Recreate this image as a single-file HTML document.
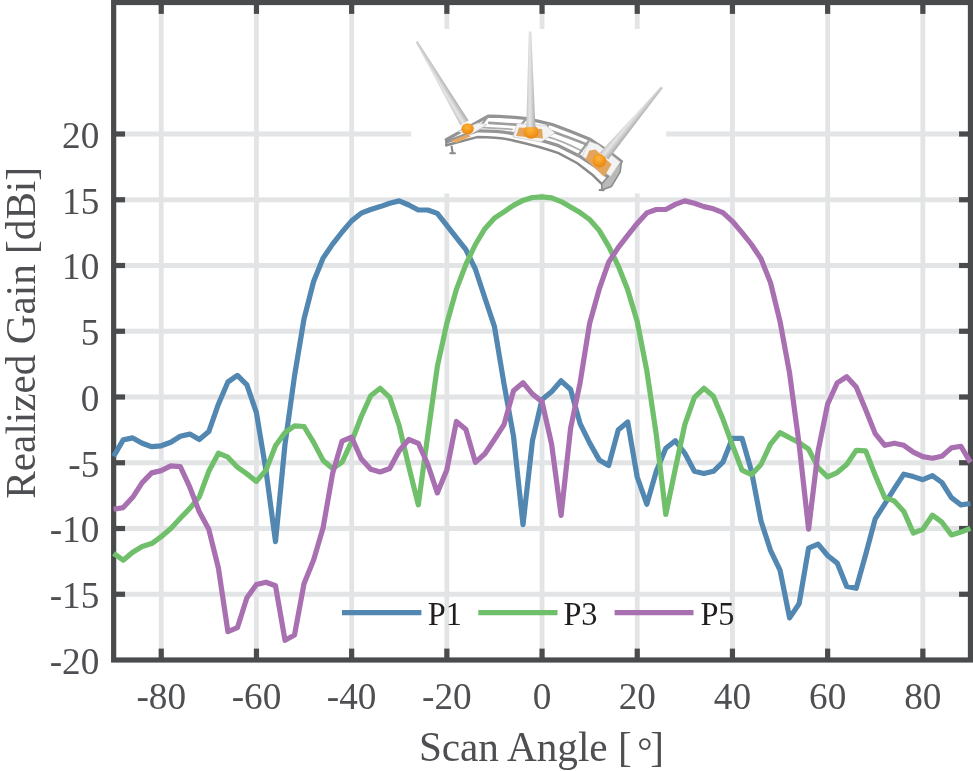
<!DOCTYPE html>
<html lang="en"><head><meta charset="utf-8"><title>Realized Gain vs Scan Angle</title>
<style>html,body{margin:0;padding:0;background:#fff;}body{width:973px;height:771px;overflow:hidden;}svg{display:block;}text{font-family:"Liberation Serif","Times New Roman",serif;}</style>
</head><body>
<svg width="973" height="771" viewBox="0 0 973 771">
<defs>
<linearGradient id="coneL" gradientUnits="userSpaceOnUse" x1="460.4" y1="125.4" x2="468.6" y2="120.4"><stop offset="0" stop-color="#c4c4c4"/><stop offset="0.4" stop-color="#e6e6e6"/><stop offset="1" stop-color="#ababab"/></linearGradient>
<linearGradient id="coneM" gradientUnits="userSpaceOnUse" x1="526.2" y1="127.0" x2="535.4" y2="127.0"><stop offset="0" stop-color="#c4c4c4"/><stop offset="0.4" stop-color="#e6e6e6"/><stop offset="1" stop-color="#ababab"/></linearGradient>
<linearGradient id="coneR" gradientUnits="userSpaceOnUse" x1="599.9" y1="153.0" x2="607.9" y2="159.4"><stop offset="0" stop-color="#c4c4c4"/><stop offset="0.4" stop-color="#e6e6e6"/><stop offset="1" stop-color="#ababab"/></linearGradient>
<radialGradient id="ball" cx="0.45" cy="0.35" r="0.7"><stop offset="0" stop-color="#ffb43a"/><stop offset="1" stop-color="#e8820c"/></radialGradient>
<clipPath id="plotclip"><rect x="113.65" y="2.50" width="856.80" height="657.50"/></clipPath>
</defs>
<rect width="973" height="771" fill="#fff"/>
<g stroke="#e3e4e5" stroke-width="4.8" fill="none">
<line x1="161.25" y1="2.50" x2="161.25" y2="660.00"/>
<line x1="256.45" y1="2.50" x2="256.45" y2="660.00"/>
<line x1="351.65" y1="2.50" x2="351.65" y2="660.00"/>
<line x1="446.85" y1="2.50" x2="446.85" y2="660.00"/>
<line x1="542.05" y1="2.50" x2="542.05" y2="660.00"/>
<line x1="637.25" y1="2.50" x2="637.25" y2="660.00"/>
<line x1="732.45" y1="2.50" x2="732.45" y2="660.00"/>
<line x1="827.65" y1="2.50" x2="827.65" y2="660.00"/>
<line x1="922.85" y1="2.50" x2="922.85" y2="660.00"/>
<line x1="113.65" y1="594.25" x2="970.45" y2="594.25"/>
<line x1="113.65" y1="528.50" x2="970.45" y2="528.50"/>
<line x1="113.65" y1="462.75" x2="970.45" y2="462.75"/>
<line x1="113.65" y1="397.00" x2="970.45" y2="397.00"/>
<line x1="113.65" y1="331.25" x2="970.45" y2="331.25"/>
<line x1="113.65" y1="265.50" x2="970.45" y2="265.50"/>
<line x1="113.65" y1="199.75" x2="970.45" y2="199.75"/>
<line x1="113.65" y1="134.00" x2="970.45" y2="134.00"/>
</g>
<rect x="411.3" y="29" width="254.9" height="164.5" fill="#fff"/>
<g id="antenna-inset">
<g fill="none" stroke-linecap="round" stroke-linejoin="round">
<path d="M446.3 145.3 L477 137.1 Q500 137.3 514 140.7 Q540 146.5 558.5 153.1 L577 163 L593 175.3 L601.7 183.9" stroke="#8a8a8a" stroke-width="2.5"/>
<path d="M447.2 141.6 L477 130.9 Q500 130.8 514 133.9 Q540 139.5 558.5 145.7 L580.7 156.8 L599.2 169.1 L608 177" stroke="#959595" stroke-width="3.4"/>
<path d="M446.3 139.7 L488.1 116.1 Q510 116.6 526.3 118.5 L540 121.6 L552.3 124.5 L570.8 131.5 L589.3 138.9 L598 144.5 L608 151 L621.4 161.5" stroke="#939393" stroke-width="3.2"/>
<path d="M489.3 122.8 L516.5 124.7" stroke="#9e9e9e" stroke-width="2.7"/>
<path d="M552.3 131.5 L570.8 138.3 L588.1 145.1" stroke="#9e9e9e" stroke-width="2.7"/>
<path d="M480 127.4 L512 129.3" stroke="#adadad" stroke-width="1.8"/>
<path d="M546 136.3 Q562 140.5 582 151" stroke="#adadad" stroke-width="1.8"/>
<path d="M488.1 116.1 L477 130.9 M526.3 118.5 L514 133.9 M549 123.5 L540 139.5 M590 139.2 L578 155.6" stroke="#9c9c9c" stroke-width="2.3"/>
<path d="M446.3 139.7 L446.3 145.5 M451.6 146.5 L452.6 152.5 M450.4 153.2 L454.9 153.2" stroke="#8a8a8a" stroke-width="2.1"/>
</g>
<polygon points="608,176.5 621.4,161.5 620.2,171.8 611.5,186.4 601.9,190 601.7,183.9" fill="#b9b9b9" stroke="#8c8c8c" stroke-width="1.6" stroke-linejoin="round"/>
<path d="M598.8 190 L604.4 190.2" stroke="#8c8c8c" stroke-width="2" fill="none"/>
<polygon points="458,131.5 478,123 487,124.5 470,135" fill="#f4f4f4" stroke="#c8c8c8" stroke-width="0.7"/>
<polygon points="451.5,140.5 466,134.8 471,136.2 456,143" fill="#e6a862"/>
<polygon points="517,123.5 546,125.5 555,133 541,142 513,137" fill="#f3f3f3" stroke="#c6c6c6" stroke-width="0.7"/>
<polygon points="519,127.5 542,129 543,138.5 516,136" fill="#e3a55e"/>
<polygon points="589.5,141.5 598,144.5 620.5,162 610.5,176.5 582,156" fill="#f3f3f3" stroke="#c4c4c4" stroke-width="0.7"/>
<polygon points="589.3,150.6 595.5,149.4 611.5,164.2 604.1,177 585.6,159.3" fill="#e3a55e"/>
<ellipse cx="467.6" cy="128.8" rx="6.2" ry="5.6" fill="url(#ball)"/>
<ellipse cx="531.1" cy="132" rx="7.6" ry="6.8" fill="url(#ball)"/>
<ellipse cx="599.4" cy="160.6" rx="6.8" ry="6.8" fill="url(#ball)"/>
<polygon points="415.6,42.2 417.5,41 468.6,120.4 460.4,125.4" fill="url(#coneL)"/>
<polygon points="528.8,31.6 531.3,31.6 535.4,127.2 526.2,127.2" fill="url(#coneM)"/>
<polygon points="660.9,86.4 662.8,88 608.3,159.6 599.7,152.8" fill="url(#coneR)"/>
</g>

<g stroke="#4a4b4d" stroke-width="5.2" fill="none">
<line x1="161.25" y1="660.00" x2="161.25" y2="648.60"/>
<line x1="161.25" y1="2.50" x2="161.25" y2="13.90"/>
<line x1="256.45" y1="660.00" x2="256.45" y2="648.60"/>
<line x1="256.45" y1="2.50" x2="256.45" y2="13.90"/>
<line x1="351.65" y1="660.00" x2="351.65" y2="648.60"/>
<line x1="351.65" y1="2.50" x2="351.65" y2="13.90"/>
<line x1="446.85" y1="660.00" x2="446.85" y2="648.60"/>
<line x1="446.85" y1="2.50" x2="446.85" y2="13.90"/>
<line x1="542.05" y1="660.00" x2="542.05" y2="648.60"/>
<line x1="542.05" y1="2.50" x2="542.05" y2="13.90"/>
<line x1="637.25" y1="660.00" x2="637.25" y2="648.60"/>
<line x1="637.25" y1="2.50" x2="637.25" y2="13.90"/>
<line x1="732.45" y1="660.00" x2="732.45" y2="648.60"/>
<line x1="732.45" y1="2.50" x2="732.45" y2="13.90"/>
<line x1="827.65" y1="660.00" x2="827.65" y2="648.60"/>
<line x1="827.65" y1="2.50" x2="827.65" y2="13.90"/>
<line x1="922.85" y1="660.00" x2="922.85" y2="648.60"/>
<line x1="922.85" y1="2.50" x2="922.85" y2="13.90"/>
<line x1="113.65" y1="594.25" x2="125.05" y2="594.25"/>
<line x1="970.45" y1="594.25" x2="959.05" y2="594.25"/>
<line x1="113.65" y1="528.50" x2="125.05" y2="528.50"/>
<line x1="970.45" y1="528.50" x2="959.05" y2="528.50"/>
<line x1="113.65" y1="462.75" x2="125.05" y2="462.75"/>
<line x1="970.45" y1="462.75" x2="959.05" y2="462.75"/>
<line x1="113.65" y1="397.00" x2="125.05" y2="397.00"/>
<line x1="970.45" y1="397.00" x2="959.05" y2="397.00"/>
<line x1="113.65" y1="331.25" x2="125.05" y2="331.25"/>
<line x1="970.45" y1="331.25" x2="959.05" y2="331.25"/>
<line x1="113.65" y1="265.50" x2="125.05" y2="265.50"/>
<line x1="970.45" y1="265.50" x2="959.05" y2="265.50"/>
<line x1="113.65" y1="199.75" x2="125.05" y2="199.75"/>
<line x1="970.45" y1="199.75" x2="959.05" y2="199.75"/>
<line x1="113.65" y1="134.00" x2="125.05" y2="134.00"/>
<line x1="970.45" y1="134.00" x2="959.05" y2="134.00"/>
<rect x="113.65" y="2.50" width="856.80" height="657.50"/>
</g>
<g fill="none" stroke-width="5.2" stroke-linejoin="round" stroke-linecap="butt">
<path stroke="#5187b1" d="M113.6 456.4 L123.2 439.9 L132.7 437.9 L142.2 443.3 L151.7 446.7 L161.2 445.8 L170.8 442.2 L180.3 436.3 L189.8 434.1 L199.3 439.5 L208.8 431.6 L218.4 404.2 L227.9 382.0 L237.4 375.4 L246.9 384.9 L256.4 412.6 L266.0 470.6 L275.5 541.6 L285.0 444.3 L294.5 376.0 L304.0 319.0 L313.6 281.5 L323.1 258.1 L332.6 244.1 L342.1 232.0 L351.6 220.9 L361.2 213.2 L370.7 209.5 L380.2 206.6 L389.7 203.2 L399.2 200.9 L408.8 205.0 L418.3 210.0 L427.8 210.0 L437.3 213.4 L446.8 225.4 L456.4 237.6 L465.9 249.7 L475.4 269.2 L484.9 298.0 L494.4 326.3 L504.0 383.9 L513.5 436.1 L523.0 524.6 L532.5 440.4 L542.0 399.6 L551.6 391.7 L561.1 380.8 L570.6 389.5 L580.1 423.6 L589.6 442.9 L599.2 459.9 L608.7 465.4 L618.2 430.1 L627.7 422.0 L637.2 477.0 L646.8 504.2 L656.3 471.3 L665.8 448.2 L675.3 440.7 L684.8 453.2 L694.4 471.3 L703.9 473.5 L713.4 471.3 L722.9 462.2 L732.4 438.3 L742.0 438.3 L751.5 471.3 L761.0 521.0 L770.5 550.3 L780.0 570.1 L789.6 617.9 L799.1 603.8 L808.6 548.1 L818.1 544.1 L827.6 555.5 L837.2 563.1 L846.7 586.4 L856.2 588.3 L865.7 554.5 L875.2 518.9 L884.8 503.8 L894.3 488.7 L903.8 474.2 L913.3 476.6 L922.8 479.7 L932.4 475.6 L941.9 482.5 L951.4 497.7 L960.9 504.8 L970.4 503.5"/>
<path stroke="#70bf6b" d="M113.6 553.4 L123.2 560.2 L132.7 552.2 L142.2 546.5 L151.7 543.6 L161.2 536.7 L170.8 528.5 L180.3 518.2 L189.8 508.4 L199.3 496.9 L208.8 471.3 L218.4 453.2 L227.9 457.2 L237.4 467.2 L246.9 473.9 L256.4 481.4 L266.0 470.1 L275.5 445.7 L285.0 432.6 L294.5 425.8 L304.0 426.5 L313.6 442.4 L323.1 460.4 L332.6 468.5 L342.1 462.2 L351.6 441.7 L361.2 416.7 L370.7 395.7 L380.2 388.3 L389.7 397.4 L399.2 425.8 L408.8 466.7 L418.3 504.8 L427.8 434.9 L437.3 366.8 L446.8 323.5 L456.4 289.4 L465.9 264.4 L475.4 244.5 L484.9 228.7 L494.4 218.2 L504.0 211.8 L513.5 205.4 L523.0 200.4 L532.5 197.5 L542.0 196.9 L551.6 197.9 L561.1 201.6 L570.6 207.0 L580.1 212.6 L589.6 219.5 L599.2 230.4 L608.7 246.3 L618.2 265.8 L627.7 289.8 L637.2 321.4 L646.8 370.7 L656.3 434.9 L665.8 514.4 L675.3 468.9 L684.8 424.6 L694.4 397.4 L703.9 388.3 L713.4 396.3 L722.9 419.1 L732.4 445.1 L742.0 470.1 L751.5 474.6 L761.0 464.5 L770.5 444.1 L780.0 432.6 L789.6 437.8 L799.1 442.6 L808.6 449.2 L818.1 467.6 L827.6 476.8 L837.2 472.6 L846.7 464.5 L856.2 450.4 L865.7 450.9 L875.2 475.2 L884.8 497.7 L894.3 500.9 L903.8 511.4 L913.3 533.0 L922.8 529.3 L932.4 515.2 L941.9 522.2 L951.4 534.9 L960.9 532.1 L970.4 528.4"/>
<path stroke="#a970b1" d="M113.6 509.2 L123.2 507.6 L132.7 497.3 L142.2 482.6 L151.7 472.9 L161.2 470.6 L170.8 465.8 L180.3 466.7 L189.8 487.2 L199.3 511.8 L208.8 529.3 L218.4 568.0 L227.9 631.7 L237.4 627.7 L246.9 597.7 L256.4 584.5 L266.0 582.2 L275.5 585.8 L285.0 640.3 L294.5 635.0 L304.0 583.7 L313.6 560.1 L323.1 527.8 L332.6 473.5 L342.1 441.1 L351.6 437.2 L361.2 458.8 L370.7 469.3 L380.2 472.0 L389.7 468.5 L399.2 450.8 L408.8 439.5 L418.3 443.3 L427.8 464.5 L437.3 492.9 L446.8 470.1 L456.4 421.5 L465.9 429.5 L475.4 462.4 L484.9 453.8 L494.4 439.5 L504.0 424.6 L513.5 390.7 L523.0 382.7 L532.5 394.1 L542.0 401.6 L551.6 444.1 L561.1 515.4 L570.6 428.2 L580.1 382.7 L589.6 323.5 L599.2 289.2 L608.7 262.2 L618.2 247.6 L627.7 235.3 L637.2 223.4 L646.8 212.9 L656.3 209.5 L665.8 209.5 L675.3 204.4 L684.8 200.9 L694.4 203.2 L703.9 206.6 L713.4 208.8 L722.9 212.6 L732.4 221.3 L742.0 232.6 L751.5 244.5 L761.0 258.8 L770.5 282.6 L780.0 321.3 L789.6 373.3 L799.1 444.1 L808.6 529.2 L818.1 450.9 L827.6 404.2 L837.2 382.9 L846.7 376.7 L856.2 387.1 L865.7 409.8 L875.2 433.6 L884.8 445.3 L894.3 443.2 L903.8 445.3 L913.3 452.1 L922.8 456.6 L932.4 458.3 L941.9 456.2 L951.4 447.9 L960.9 446.3 L970.4 462.4"/>
</g>
<g fill="#4e4f52" font-size="38.4px">
<text transform="translate(161.25 708.60) scale(0.970 1)" text-anchor="middle">-80</text>
<text transform="translate(256.45 708.60) scale(0.970 1)" text-anchor="middle">-60</text>
<text transform="translate(351.65 708.60) scale(0.970 1)" text-anchor="middle">-40</text>
<text transform="translate(446.85 708.60) scale(0.970 1)" text-anchor="middle">-20</text>
<text transform="translate(542.05 708.60) scale(0.970 1)" text-anchor="middle">0</text>
<text transform="translate(637.25 708.60) scale(0.970 1)" text-anchor="middle">20</text>
<text transform="translate(732.45 708.60) scale(0.970 1)" text-anchor="middle">40</text>
<text transform="translate(827.65 708.60) scale(0.970 1)" text-anchor="middle">60</text>
<text transform="translate(922.85 708.60) scale(0.970 1)" text-anchor="middle">80</text>
<text transform="translate(99.30 673.90) scale(0.970 1)" text-anchor="end">-20</text>
<text transform="translate(99.30 608.15) scale(0.970 1)" text-anchor="end">-15</text>
<text transform="translate(99.30 542.40) scale(0.970 1)" text-anchor="end">-10</text>
<text transform="translate(99.30 476.65) scale(0.970 1)" text-anchor="end">-5</text>
<text transform="translate(99.30 410.90) scale(0.970 1)" text-anchor="end">0</text>
<text transform="translate(99.30 345.15) scale(0.970 1)" text-anchor="end">5</text>
<text transform="translate(99.30 279.40) scale(0.970 1)" text-anchor="end">10</text>
<text transform="translate(99.30 213.65) scale(0.970 1)" text-anchor="end">15</text>
<text transform="translate(99.30 147.90) scale(0.970 1)" text-anchor="end">20</text>
</g>
<g fill="#4e4f52" font-size="41.2px">
<text x="418.9" y="760.5" text-anchor="start">Scan Angle [ <tspan dy="3.3" dx="-4.8" font-size="38px">°</tspan><tspan dy="-3.3" dx="-2.2">]</tspan></text>
<text transform="translate(34.9 332.8) rotate(-90)" text-anchor="middle">Realized Gain [dBi]</text>
</g>
<g stroke-width="5.2" fill="none">
<line x1="342" y1="612.7" x2="421.4" y2="612.7" stroke="#5187b1"/>
<line x1="478.3" y1="612.7" x2="557.5" y2="612.7" stroke="#70bf6b"/>
<line x1="614.6" y1="612.7" x2="693.5" y2="612.7" stroke="#a970b1"/>
</g>
<g fill="#221e1f" font-size="34px">
<text transform="translate(427.70 624.80) scale(0.950 1)" text-anchor="start">P1</text>
<text transform="translate(563.40 624.80) scale(0.950 1)" text-anchor="start">P3</text>
<text transform="translate(700.40 624.80) scale(0.950 1)" text-anchor="start">P5</text>
</g>
</svg>
</body></html>
